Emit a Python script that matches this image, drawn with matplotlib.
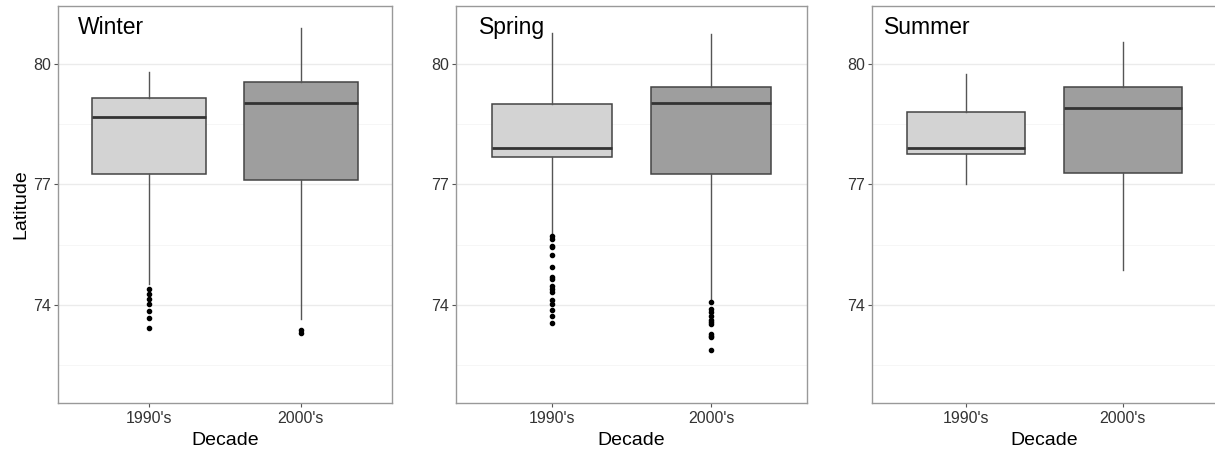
import matplotlib
matplotlib.use("Agg")
import matplotlib.pyplot as plt

plt.rcParams["font.family"] = ["Liberation Sans", "DejaVu Sans"]

# Values (latitude, degrees N)
seasons = ["Winter", "Spring", "Summer"]
decades = ["1990's", "2000's"]

# per season: [1990's, 2000's] -> (whislo, q1, med, q3, whishi)
winter_stats = [(74.52, 77.27, 78.67, 79.16, 79.81),
                (73.65, 77.11, 79.02, 79.55, 80.90)]
spring_stats = [(75.80, 77.68, 77.90, 79.00, 80.78),
                (74.11, 77.27, 79.02, 79.42, 80.75)]
summer_stats = [(77.00, 77.75, 77.90, 78.80, 79.75),
                (74.86, 77.29, 78.90, 79.44, 80.55)]

winter_out = [[74.40, 74.27, 74.15, 74.02, 73.84, 73.66, 73.42],
              [73.38, 73.30]]
spring_out = [[75.71, 75.65, 75.46, 75.43, 75.23, 74.94, 74.69, 74.65,
               74.46, 74.40, 74.32, 74.12, 74.03, 73.86, 73.73, 73.54],
              [74.08, 73.90, 73.82, 73.73, 73.62, 73.57, 73.52, 73.27,
               73.23, 73.19, 72.88]]
summer_out = [[], []]

all_stats = [winter_stats, spring_stats, summer_stats]
all_out = [winter_out, spring_out, summer_out]

fills = ["#D3D3D3", "#9E9E9E"]

fig = plt.figure(figsize=(12.15, 4.55), dpi=100)
W, H = 1215.0, 455.0
# panel pixel extents (left, right)
panels = [(58, 392), (456, 807), (872, 1217)]
top_px, bot_px = 6, 403

for i, (season, stats, outs) in enumerate(zip(seasons, all_stats, all_out)):
    l, r = panels[i]
    ax = fig.add_axes([l / W, 1 - bot_px / H, (r - l) / W, (bot_px - top_px) / H])

    bxp_stats = []
    for j in range(2):
        lo, q1, med, q3, hi = stats[j]
        bxp_stats.append(dict(whislo=lo, q1=q1, med=med, q3=q3, whishi=hi,
                              fliers=outs[j], label=decades[j]))

    bp = ax.bxp(bxp_stats, positions=[1, 2], widths=0.75, patch_artist=True,
                showcaps=False,
                boxprops=dict(edgecolor="#444444", linewidth=1.1),
                medianprops=dict(color="#333333", linewidth=2.0),
                whiskerprops=dict(color="#555555", linewidth=1.0),
                flierprops=dict(marker="o", markersize=3, markerfacecolor="black",
                                markeredgecolor="black", linestyle="none"))
    for patch, c in zip(bp["boxes"], fills):
        patch.set_facecolor(c)
        patch.set_zorder(2)

    ax.set_xlim(0.4, 2.6)
    ax.set_ylim(71.55, 81.45)
    ax.set_yticks([74, 77, 80])
    ax.set_yticks([72.5, 75.5, 78.5], minor=True)
    ax.set_xticks([1, 2])
    ax.set_xticklabels(decades)
    ax.grid(axis="y", which="major", color="#EBEBEB", linewidth=1.0, zorder=0)
    ax.grid(axis="y", which="minor", color="#F5F5F5", linewidth=0.6, zorder=0)
    ax.set_axisbelow(True)
    ax.tick_params(axis="both", which="major", labelsize=11.5, labelcolor="#333333",
                   color="#555555", length=3, width=0.8, pad=2)
    ax.tick_params(axis="x", which="major", pad=3)
    ax.tick_params(axis="y", which="minor", length=0)
    for s in ax.spines.values():
        s.set_color("#999999")
        s.set_linewidth(1.0)

    ax.set_xlabel("Decade", fontsize=14, labelpad=4)
    if i == 0:
        ax.set_ylabel("Latitude", fontsize=14, labelpad=3)

    ax.text(0.75, 80.92, season, ha="center", va="center", fontsize=16.5)

fig.savefig("out.png", dpi=100)
